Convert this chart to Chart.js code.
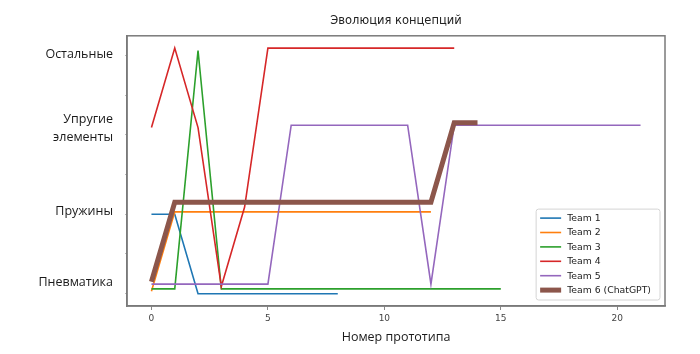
<!DOCTYPE html>
<html>
<head>
<meta charset="utf-8">
<script src="https://cdn.jsdelivr.net/npm/chart.js@4.4.1/dist/chart.umd.min.js"></script>
<style>
    html, body { margin: 0; padding: 0; background: #fff; }
    #wrap { width: 700px; height: 354px; position: relative; }
</style>
</head>
<body>
<div id="wrap"><canvas id="conceptChart"></canvas></div>
<script>
// Teams
const teamNames = ['Team 1', 'Team 2', 'Team 3', 'Team 4', 'Team 5', 'Team 6 (ChatGPT)'];
const teamColors = ['#1f77b4', '#ff7f0e', '#2ca02c', '#d62728', '#9467bd', '#8c564b'];
const teamWidths = [1.6, 1.6, 1.6, 1.6, 1.6, 5];

// Concept level per prototype number (array index = prototype number)
const team1 = [1, 1, 0, 0, 0, 0, 0, 0, 0];
const team2 = [0.03, 1.03, 1.03, 1.03, 1.03, 1.03, 1.03, 1.03, 1.03, 1.03, 1.03, 1.03, 1.03];
const team3 = [0.06, 0.06, 3.06, 0.06, 0.06, 0.06, 0.06, 0.06, 0.06, 0.06, 0.06, 0.06, 0.06, 0.06, 0.06, 0.06];
const team4 = [2.09, 3.09, 2.09, 0.09, 1.09, 3.09, 3.09, 3.09, 3.09, 3.09, 3.09, 3.09, 3.09, 3.09];
const team5 = [0.12, 0.12, 0.12, 0.12, 0.12, 0.12, 2.12, 2.12, 2.12, 2.12, 2.12, 2.12, 0.12,
               2.12, 2.12, 2.12, 2.12, 2.12, 2.12, 2.12, 2.12, 2.12];
const team6 = [0.15, 1.15, 1.15, 1.15, 1.15, 1.15, 1.15, 1.15, 1.15, 1.15, 1.15, 1.15, 1.15, 2.15, 2.15];
const teamSeries = [team1, team2, team3, team4, team5, team6];

// Axes
const xTicks = [0, 5, 10, 15, 20];
const yTickMarks = [0, 0.5, 1, 1.5, 2, 2.5, 3];
const conceptLabels = ['Пневматика', 'Пружины', ['Упругие', 'элементы'], 'Остальные'];
const conceptLabelPos = [0.14, 1.03, 2.08, 3.01];

const xRange = { min: -1.05, max: 22.05 };
const yRange = { min: -0.155, max: 3.245 };

const spineColor = '#7a7a7a';
const docFont = "'Open Sans', sans-serif";
const plotFont = "'DejaVu Sans', sans-serif";

/**
 * Top/right spines (left and bottom come from the axes borders)
 */
const framePlugin = {
    id: 'frame',
    afterDraw(chart) {
        const { ctx, chartArea: a } = chart;
        ctx.save();
        ctx.strokeStyle = spineColor;
        ctx.lineWidth = 1.5;
        ctx.strokeRect(a.left, a.top, a.right - a.left, a.bottom - a.top);
        ctx.restore();
    }
};

/**
 * Matplotlib-like legend in the lower right corner of the plot
 */
const boxLegendPlugin = {
    id: 'boxLegend',
    afterDraw(chart) {
        const { ctx, chartArea: a } = chart;
        const rowH = 14.4;
        ctx.save();
        ctx.font = '9.3px ' + plotFont;
        const textW = Math.max(...teamNames.map(n => ctx.measureText(n).width));
        const w = textW + 40;
        const h = rowH * teamNames.length + 4.5;
        const x = a.right - 5 - w;
        const y = a.bottom - 6 - h;

        ctx.beginPath();
        ctx.roundRect(x, y, w, h, 2.5);
        ctx.fillStyle = 'rgba(255,255,255,0.85)';
        ctx.fill();
        ctx.strokeStyle = '#d4d4d4';
        ctx.lineWidth = 1;
        ctx.stroke();

        teamNames.forEach((name, i) => {
            const cy = y + 9 + i * rowH;
            ctx.beginPath();
            ctx.moveTo(x + 4, cy);
            ctx.lineTo(x + 25, cy);
            ctx.strokeStyle = teamColors[i];
            ctx.lineWidth = teamWidths[i];
            ctx.stroke();
            ctx.fillStyle = '#222';
            ctx.textBaseline = 'middle';
            ctx.fillText(name, x + 31, cy + 0.5);
        });
        ctx.restore();
    }
};

const datasets = teamSeries.map((values, i) => ({
    label: teamNames[i],
    data: values.map((v, n) => ({ x: n, y: v })),
    borderColor: teamColors[i],
    backgroundColor: teamColors[i],
    borderWidth: teamWidths[i],
    pointRadius: 0,
    tension: 0,
    fill: false,
    order: teamNames.length - i
}));

new Chart(document.getElementById('conceptChart'), {
    type: 'line',
    data: { datasets },
    plugins: [framePlugin, boxLegendPlugin],
    options: {
        responsive: true,
        maintainAspectRatio: false,
        animation: false,
        devicePixelRatio: 1,
        layout: {
            padding: { left: 0, right: 35, top: 0, bottom: 6 }
        },
        plugins: {
            legend: { display: false },
            tooltip: { enabled: false },
            title: {
                display: true,
                text: 'Эволюция концепций',
                fullSize: false,
                color: '#222',
                font: { family: plotFont, size: 11.5, weight: 'normal' },
                padding: { top: 14, bottom: 8 }
            }
        },
        scales: {
            x: {
                type: 'linear',
                position: 'bottom',
                min: xRange.min,
                max: xRange.max,
                afterBuildTicks: (scale) => {
                    scale.ticks = xTicks.map(v => ({ value: v }));
                },
                afterFit: (scale) => {
                    scale.height = 42;
                },
                grid: {
                    display: true,
                    drawOnChartArea: false,
                    drawTicks: true,
                    tickLength: 4,
                    color: '#888'
                },
                border: { display: true, color: spineColor, width: 1.5 },
                ticks: {
                    padding: 3,
                    color: '#444',
                    font: { family: plotFont, size: 9 },
                    maxRotation: 0
                },
                title: {
                    display: true,
                    text: 'Номер прототипа',
                    color: '#1a1a1a',
                    font: { family: docFont, size: 12.5 },
                    padding: { top: 0, bottom: 3 }
                }
            },
            y: {
                type: 'linear',
                position: 'left',
                weight: 0,
                min: yRange.min,
                max: yRange.max,
                afterBuildTicks: (scale) => {
                    scale.ticks = yTickMarks.map(v => ({ value: v }));
                },
                afterFit: (scale) => {
                    scale.width = 3;
                },
                grid: {
                    display: true,
                    drawOnChartArea: false,
                    drawTicks: true,
                    tickLength: 2,
                    color: '#bbb'
                },
                border: { display: true, color: spineColor, width: 1.5 },
                ticks: { display: false }
            },
            concepts: {
                type: 'linear',
                position: 'left',
                weight: 1,
                min: yRange.min,
                max: yRange.max,
                afterBuildTicks: (scale) => {
                    scale.ticks = conceptLabelPos.map(v => ({ value: v }));
                },
                afterFit: (scale) => {
                    scale.width = 124;
                },
                grid: { display: false, drawTicks: false },
                border: { display: false },
                ticks: {
                    padding: 11,
                    color: '#1a1a1a',
                    font: { family: docFont, size: 12.5, lineHeight: 1.45 },
                    callback: (value, index) => conceptLabels[index]
                }
            }
        }
    }
});
</script>
</body>
</html>
